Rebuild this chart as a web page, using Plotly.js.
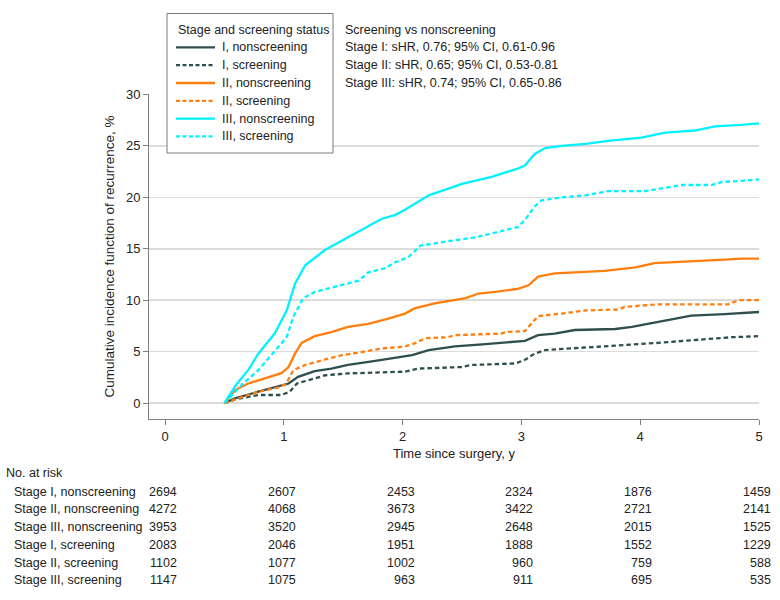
<!DOCTYPE html>
<html>
<head>
<meta charset="utf-8">
<script src="https://cdn.plot.ly/plotly-3.0.1.min.js"></script>
<style>html,body{margin:0;padding:0;background:#fff}#chart{width:780px;height:600px}</style>
</head>
<body>
<div id="chart"></div>
<script>
// ---- Data ----
var seriesNames = ["I, nonscreening", "I, screening", "II, nonscreening", "II, screening", "III, nonscreening", "III, screening"];

var s1nX = [0.5,0.589,0.785,0.98,1.04,1.12,1.26,1.40,1.54,1.77,2.02,2.08,2.22,2.44,2.67,2.83,3.03,3.14,3.28,3.45,3.79,3.93,4.24,4.43,4.71,5.0];
var s1nY = [0,0.45,1.1,1.75,1.9,2.55,3.1,3.35,3.7,4.1,4.55,4.66,5.15,5.5,5.7,5.85,6.05,6.6,6.75,7.1,7.2,7.4,8.05,8.5,8.65,8.85];

var s1sX = [0.5,0.589,0.785,0.98,1.05,1.11,1.21,1.35,1.54,1.77,2.02,2.13,2.50,2.58,2.95,3.03,3.11,3.20,3.42,3.73,4.15,4.43,4.77,5.0];
var s1sY = [0,0.35,0.78,0.78,1.1,1.9,2.23,2.7,2.88,2.95,3.05,3.35,3.5,3.7,3.85,4.2,4.8,5.15,5.3,5.55,5.85,6.1,6.4,6.5];

var s2nX = [0.5,0.589,0.70,0.84,0.98,1.04,1.094,1.15,1.26,1.40,1.54,1.71,1.88,2.02,2.10,2.27,2.53,2.64,2.78,2.97,3.06,3.14,3.28,3.45,3.70,3.96,4.12,4.29,4.52,4.71,4.85,5.0];
var s2nY = [0,1.26,1.9,2.4,2.9,3.5,4.8,5.85,6.5,6.9,7.4,7.7,8.2,8.7,9.2,9.7,10.2,10.65,10.8,11.1,11.45,12.3,12.6,12.7,12.85,13.2,13.6,13.7,13.8,13.95,14.05,14.05];

var s2sX = [0.5,0.617,0.785,0.95,1.02,1.08,1.18,1.35,1.49,1.63,1.82,2.02,2.10,2.19,2.38,2.44,2.83,2.87,3.03,3.09,3.14,3.34,3.54,3.82,3.87,4.15,4.74,4.83,5.0];
var s2sY = [0,0.45,1.1,1.5,1.9,3.2,3.7,4.25,4.66,4.9,5.3,5.5,5.8,6.3,6.4,6.6,6.75,6.9,7.0,7.8,8.45,8.7,9.0,9.1,9.35,9.6,9.6,10.0,10.0];

var s3nX = [0.5,0.6,0.70,0.785,0.926,1.024,1.094,1.18,1.35,1.54,1.82,1.94,2.02,2.22,2.50,2.75,2.97,3.03,3.11,3.20,3.34,3.54,3.73,4.01,4.21,4.46,4.63,4.85,5.0];
var s3nY = [0,1.8,3.2,4.8,6.8,9.0,11.6,13.4,14.9,16.1,17.9,18.3,18.8,20.2,21.3,22.0,22.8,23.1,24.2,24.8,25.0,25.2,25.5,25.8,26.3,26.5,26.9,27.05,27.2];

var s3sX = [0.5,0.645,0.785,0.926,1.024,1.08,1.164,1.26,1.40,1.63,1.71,1.85,1.94,2.05,2.15,2.36,2.61,2.78,2.97,3.03,3.11,3.17,3.34,3.54,3.73,4.04,4.18,4.35,4.60,4.69,4.85,5.0];
var s3sY = [0,1.75,3.2,5.1,6.4,8.4,10.2,10.8,11.2,11.9,12.7,13.1,13.7,14.2,15.3,15.7,16.1,16.6,17.1,17.8,19.1,19.7,20.0,20.2,20.6,20.6,20.9,21.2,21.2,21.5,21.6,21.75];

var legendTitle = "Stage and screening status";
var hrLines = ["Screening vs nonscreening",
  "Stage I: sHR, 0.76; 95% CI, 0.61-0.96",
  "Stage II: sHR, 0.65; 95% CI, 0.53-0.81",
  "Stage III: sHR, 0.74; 95% CI, 0.65-0.86"];

var riskTimes = [0, 1, 2, 3, 4, 5];
var riskLabels = ["Stage I, nonscreening", "Stage II, nonscreening", "Stage III, nonscreening",
  "Stage I, screening", "Stage II, screening", "Stage III, screening"];
var riskI_n   = [2694, 2607, 2453, 2324, 1876, 1459];
var riskII_n  = [4272, 4068, 3673, 3422, 2721, 2141];
var riskIII_n = [3953, 3520, 2945, 2648, 2015, 1525];
var riskI_s   = [2083, 2046, 1951, 1888, 1552, 1229];
var riskII_s  = [1102, 1077, 1002, 960, 759, 588];
var riskIII_s = [1147, 1075, 963, 911, 695, 535];

// ---- Styles ----
var FONT = "Liberation Sans, Arial, sans-serif";
var FS = 12.5;
var TXT = "#222";
var cDark = "#2F4F4F", cOrange = "#FF7F0E", cCyan = "#00F2FF";
var DASH = "4.5px,3px";
var LDASH = "4px,2.5px";

var xs = [s1nX, s1sX, s2nX, s2sX, s3nX, s3sX];
var ys = [s1nY, s1sY, s2nY, s2sY, s3nY, s3sY];
var colors = [cDark, cDark, cOrange, cOrange, cCyan, cCyan];
var dashes = ["solid", DASH, "solid", DASH, "solid", DASH];
var legDashes = ["solid", LDASH, "solid", LDASH, "solid", LDASH];

var traces = [];
for (var i = 0; i < 6; i++) {
  traces.push({
    type: "scatter", mode: "lines", name: seriesNames[i],
    x: xs[i], y: ys[i], showlegend: false,
    line: {color: colors[i], width: 2.3, dash: dashes[i]},
    hoverinfo: "skip"
  });
}

// plot-area pixel geometry
var L = 149, R = 21, T = 94, B = 181;
var W = 780 - L - R, H = 600 - T - B;
function px2paperX(px) { return (px - L) / W; }
function px2paperY(py) { return (600 - B - py) / H; }

var ann = [], shapes = [];
function txt(x, y, s, anchor, size) {
  return {xref: "paper", yref: "paper", x: px2paperX(x), y: px2paperY(y),
    xanchor: anchor || "left", yanchor: "middle", text: s, showarrow: false,
    font: {family: FONT, size: size || FS, color: TXT}};
}

// legend (box, title, samples, labels)
shapes.push({type: "rect", xref: "paper", yref: "paper",
  x0: px2paperX(167), x1: px2paperX(333), y0: px2paperY(13.5), y1: px2paperY(153),
  line: {color: "#7a7a7a", width: 1}, fillcolor: "#fff", layer: "above"});
ann.push(txt(176, 30, legendTitle));
var legY = [47.4, 65.2, 83.0, 100.8, 118.6, 136.4];
for (var j = 0; j < 6; j++) {
  shapes.push({type: "line", xref: "paper", yref: "paper",
    x0: px2paperX(176), x1: px2paperX(215), y0: px2paperY(legY[j]), y1: px2paperY(legY[j]),
    line: {color: colors[j], width: 2.3, dash: legDashes[j]}, layer: "above"});
  ann.push(txt(220, legY[j], seriesNames[j]));
}

// hazard ratio text
var hrY = [30, 47.5, 65.3, 83];
for (var k = 0; k < hrLines.length; k++) ann.push(txt(343, hrY[k], hrLines[k]));

// number-at-risk table
ann.push(txt(4, 473, "No. at risk"));
var riskRows = [riskI_n, riskII_n, riskIII_n, riskI_s, riskII_s, riskIII_s];
var rowY = [491.7, 509.4, 527.1, 544.8, 562.5, 580.2];
for (var r = 0; r < 6; r++) {
  ann.push(txt(12, rowY[r], riskLabels[r]));
  for (var c = 0; c < riskTimes.length; c++) {
    ann.push({xref: "x", yref: "paper", x: riskTimes[c], xshift: 14, y: px2paperY(rowY[r]),
      xanchor: "right", yanchor: "middle", text: String(riskRows[r][c]), showarrow: false,
      font: {family: FONT, size: FS, color: TXT}});
  }
}

var layout = {
  width: 780, height: 600,
  margin: {l: L, r: R, t: T, b: B, pad: 0},
  paper_bgcolor: "#fff", plot_bgcolor: "#fff",
  font: {family: FONT, size: FS, color: TXT},
  showlegend: false,
  xaxis: {
    range: [-0.135, 5], tickvals: riskTimes, ticktext: riskTimes.map(String),
    showgrid: false, zeroline: false, showline: true, linecolor: "#808080", linewidth: 1,
    ticks: "outside", ticklen: 5, tickcolor: "#808080", tickwidth: 1,
    tickfont: {family: FONT, size: 13, color: TXT},
    title: {text: "Time since surgery, y", font: {family: FONT, size: 13, color: TXT}, standoff: 6},
    automargin: false, fixedrange: true
  },
  yaxis: {
    range: [-1.553, 30.05], tickvals: [0, 5, 10, 15, 20, 25, 30],
    showgrid: true, gridcolor: "#dcdcdc", gridwidth: 1.5,
    zeroline: false, showline: true, linecolor: "#808080", linewidth: 1,
    ticks: "outside", ticklen: 5, tickcolor: "#808080", tickwidth: 1,
    tickfont: {family: FONT, size: 13, color: TXT},
    title: {text: "Cumulative incidence function of recurrence, %", font: {family: FONT, size: 13.5, color: TXT}, standoff: 8},
    automargin: false, fixedrange: true
  },
  shapes: shapes,
  annotations: ann
};

Plotly.newPlot("chart", traces, layout, {staticPlot: true, displayModeBar: false});
</script>
</body>
</html>
